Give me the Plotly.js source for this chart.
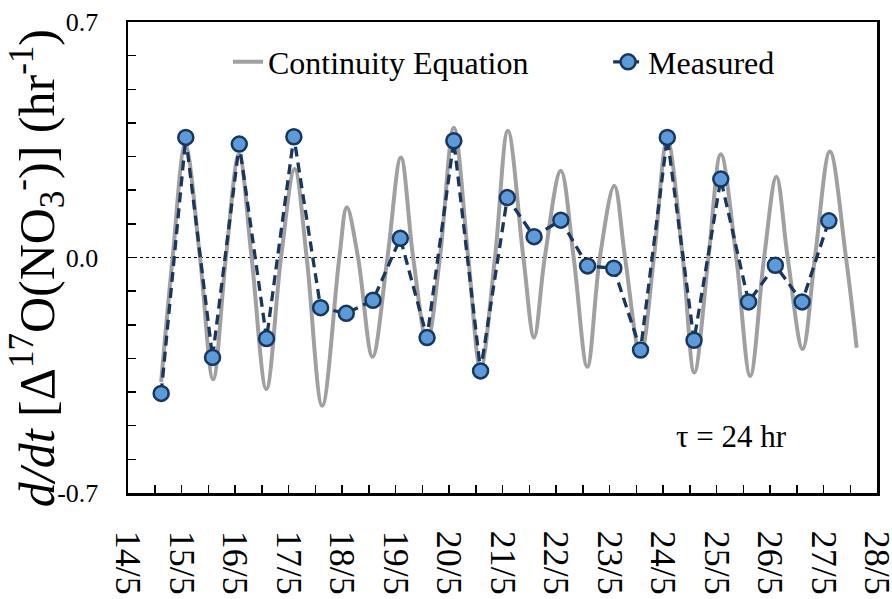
<!DOCTYPE html>
<html>
<head>
<meta charset="utf-8">
<script src="https://cdn.plot.ly/plotly-3.0.1.min.js"></script>
<style>
html,body{margin:0;padding:0;background:#fff;}
#chart{width:892px;height:599px;}
</style>
</head>
<body>
<div id="chart"></div>
<script>
// x values are days after 14/5 00:00
const dayLabels = ['14/5','15/5','16/5','17/5','18/5','19/5','20/5','21/5','22/5','23/5','24/5','25/5','26/5','27/5','28/5'];

// Continuity equation curve: extrema and zero crossings
const contDays = [0.62,0.835,1.07,1.346,1.59,1.83,2.075,2.31,2.586,2.86,3.115,3.34,3.63,3.95,4.09,4.30,4.57,4.85,5.10,5.33,5.59,5.83,6.09,6.36,6.59,6.86,7.10,7.39,7.59,7.79,8.09,8.33,8.585,8.82,9.09,9.29,9.58,9.83,10.08,10.37,10.585,10.85,11.08,11.37,11.63,11.89,12.12,12.33,12.61,12.84,13.12,13.42,13.62];
const contVals = [-0.37,0,0.335,0,-0.362,0,0.307,0,-0.391,0,0.263,0,-0.441,0,0.149,0,-0.295,0,0.297,0,-0.25,0,0.386,0,-0.33,0,0.377,0,-0.238,0,0.258,0,-0.325,0,0.213,0,-0.29,0,0.35,0,-0.342,0,0.307,0,-0.352,0,0.240,0,-0.272,0,0.315,0,-0.268];

// Measured
const measDays = [0.62,1.08,1.58,2.08,2.59,3.1,3.6,4.08,4.58,5.09,5.59,6.09,6.59,7.09,7.59,8.09,8.59,9.08,9.58,10.08,10.58,11.08,11.6,12.1,12.6,13.1];
const measVals = [-0.404,0.357,-0.297,0.337,-0.241,0.359,-0.149,-0.166,-0.127,0.057,-0.238,0.347,-0.337,0.178,0.062,0.111,-0.025,-0.032,-0.275,0.357,-0.246,0.233,-0.132,-0.023,-0.132,0.109];

const yTickVals = [-0.7,-0.6,-0.5,-0.4,-0.3,-0.2,-0.1,0,0.1,0.2,0.3,0.4,0.5,0.6,0.7];
const yTickText = ['-0.7','','','','','','','0.0','','','','','','','0.7'];

const yTitle = '<i>d/dt</i> [Δ<sup>17</sup>O(NO<sub>3</sub><sup>-</sup>)] (hr<sup>-1</sup>)';
const noteText = 'τ = 24 hr';

const xTickVals = dayLabels.map((_, i) => i);
const xMinorVals = dayLabels.slice(0, -1).map((_, i) => i + 0.5);

const FONT = 'Liberation Serif, Times New Roman, serif';

const traces = [
  {
    x: contDays, y: contVals, type: 'scatter', mode: 'lines',
    name: 'Continuity Equation', legend: 'legend',
    line: {color: '#A0A0A0', width: 4, shape: 'spline', smoothing: 1},
  },
  {
    x: measDays, y: measVals, type: 'scatter', mode: 'lines+markers',
    name: 'Measured', legend: 'legend2',
    line: {color: '#17375E', width: 3.3, dash: '10px,6px'},
    marker: {size: 15, color: '#5B9BDB', line: {color: '#17375E', width: 2.5}},
  }
];

const legendBase = {
  orientation: 'h', y: 0.915, xanchor: 'left', yanchor: 'middle',
  font: {family: FONT, size: 32, color: '#000'},
  bgcolor: 'rgba(0,0,0,0)', itemwidth: 30
};

const layout = {
  width: 892, height: 599,
  margin: {l: 128, r: 15, t: 22, b: 106},
  paper_bgcolor: '#fff', plot_bgcolor: '#fff',
  font: {family: FONT, color: '#000'},
  showlegend: true,
  legend: Object.assign({}, legendBase, {x: 0.1335}),
  legend2: Object.assign({}, legendBase, {x: 0.641}),
  xaxis: {
    range: [0, 14], tickmode: 'array', tickvals: xTickVals, ticktext: dayLabels,
    tickangle: 90, ticks: 'inside', ticklen: 8, tickwidth: 1.5, tickcolor: '#000',
    tickfont: {family: FONT, size: 36, color: '#000'},
    ticklabelstandoff: 28, ticklabeloverflow: 'allow',
    minor: {tickvals: xMinorVals, ticks: 'inside', ticklen: 8, tickwidth: 1.5, tickcolor: '#000'},
    showline: true, linecolor: '#000', linewidth: 2.5, mirror: true,
    showgrid: false, zeroline: false, automargin: false
  },
  yaxis: {
    range: [-0.7, 0.7], tickmode: 'array', tickvals: yTickVals, ticktext: yTickText,
    ticks: 'inside', ticklen: 8, tickwidth: 1.5, tickcolor: '#000',
    tickfont: {family: FONT, size: 26, color: '#000'},
    ticklabelstandoff: 22,
    showline: true, linecolor: '#000', linewidth: 2.5, mirror: true,
    showgrid: false, zeroline: false, automargin: false
  },
  shapes: [
    {type: 'line', xref: 'paper', x0: 0, x1: 1, yref: 'y', y0: 0, y1: 0,
     line: {color: '#000', width: 1, dash: 'dot'}, layer: 'below'}
  ],
  annotations: [
    {text: yTitle, xref: 'paper', yref: 'paper', x: -0.121, y: 0.478,
     xanchor: 'center', yanchor: 'middle', textangle: -90, showarrow: false,
     font: {family: FONT, size: 50, color: '#000'}},
    {text: noteText, xref: 'paper', yref: 'paper', x: 0.806, y: 0.12,
     xanchor: 'center', yanchor: 'middle', showarrow: false,
     font: {family: FONT, size: 31, color: '#000'}}
  ]
};

Plotly.newPlot('chart', traces, layout, {displayModeBar: false, staticPlot: true});
</script>
</body>
</html>
